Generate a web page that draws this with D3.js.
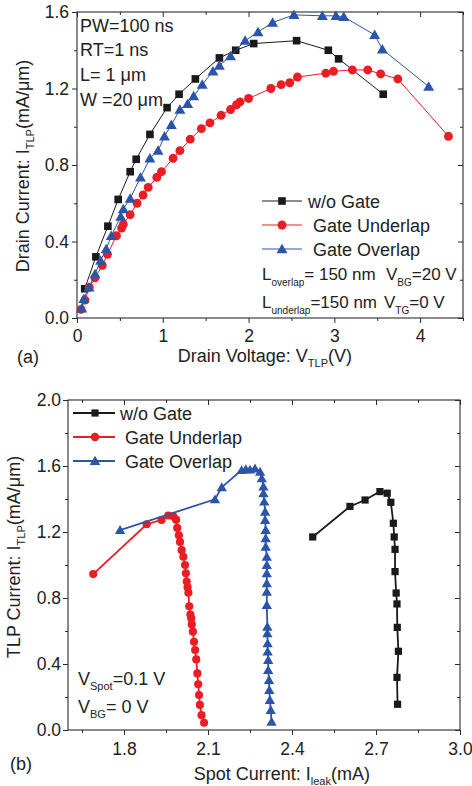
<!DOCTYPE html>
<html><head><meta charset="utf-8">
<script src="https://cdn.jsdelivr.net/npm/d3@7"></script>
<style>body{margin:0;background:#fff} text{white-space:pre}</style>
</head><body>
<svg id="c" width="472" height="786"></svg>
<script>
// ---------- DATA ----------
// Panel (a): Drain current vs drain voltage
const noGateV = [0.09,0.22,0.36,0.48,0.62,0.69,0.85,1.05,1.19,1.38,1.66,1.85,2.06,2.56,2.93,3.05,3.57];
const noGateI = [0.153,0.32,0.48,0.62,0.765,0.83,0.96,1.10,1.17,1.25,1.36,1.40,1.435,1.45,1.40,1.355,1.17];
const underV = [0.047,0.093,0.143,0.21,0.295,0.355,0.46,0.52,0.54,0.62,0.70,0.77,0.83,0.93,0.985,1.12,1.20,1.32,1.45,1.55,1.68,1.79,1.86,1.90,2.00,2.26,2.38,2.48,2.57,2.90,2.99,3.21,3.39,3.54,3.74,4.33];
const underI = [0.045,0.094,0.16,0.21,0.275,0.333,0.43,0.47,0.49,0.54,0.60,0.643,0.683,0.735,0.765,0.835,0.875,0.935,0.99,1.02,1.06,1.09,1.115,1.13,1.148,1.20,1.22,1.23,1.26,1.28,1.29,1.297,1.297,1.276,1.25,0.95];
const overV = [0.055,0.08,0.14,0.21,0.275,0.34,0.40,0.51,0.54,0.62,0.74,0.85,0.945,1.02,1.10,1.20,1.29,1.36,1.46,1.585,1.66,1.79,1.96,2.11,2.28,2.53,2.86,3.02,3.11,3.47,3.56,4.10];
const overI = [0.05,0.10,0.16,0.23,0.30,0.36,0.43,0.53,0.57,0.625,0.735,0.835,0.875,0.95,1.01,1.09,1.12,1.16,1.22,1.29,1.32,1.37,1.45,1.495,1.545,1.585,1.58,1.58,1.575,1.48,1.405,1.21];
// Panel (b): TLP current vs spot leakage current
const leakNoGate = [2.777,2.775,2.78,2.776,2.775,2.772,2.768,2.768,2.765,2.762,2.753,2.74,2.714,2.661,2.607,2.474];
const tlpNoGate  = [0.156,0.319,0.477,0.622,0.764,0.83,0.96,1.095,1.17,1.253,1.38,1.435,1.445,1.394,1.355,1.17];
const leakUnder = [2.086,2.077,2.071,2.068,2.065,2.062,2.058,2.054,2.05,2.046,2.042,2.04,2.037,2.033,2.03,2.027,2.024,2.021,2.018,2.012,2.006,2.0,1.996,1.99,1.986,1.976,1.958,1.934,1.881,1.69];
const tlpUnder  = [0.044,0.09,0.152,0.212,0.277,0.343,0.428,0.485,0.535,0.596,0.64,0.677,0.70,0.75,0.832,0.865,0.90,0.95,1.0,1.05,1.09,1.14,1.18,1.225,1.275,1.295,1.30,1.273,1.247,0.945];
const leakOver = [2.327,2.324,2.321,2.319,2.318,2.315,2.315,2.313,2.313,2.312,2.312,2.31,2.31,2.31,2.31,2.31,2.31,2.306,2.306,2.306,2.304,2.304,2.301,2.298,2.298,2.292,2.286,2.268,2.25,2.235,2.22,2.149,2.125,1.786];
const tlpOver  = [0.05,0.121,0.182,0.242,0.303,0.364,0.424,0.475,0.525,0.586,0.626,0.758,0.838,0.889,0.95,1.0,1.05,1.111,1.162,1.212,1.273,1.323,1.384,1.435,1.475,1.525,1.565,1.585,1.578,1.58,1.575,1.471,1.398,1.212];
// Ticks
const aXTicks = [0,1,2,3,4], aXMinor = [0.5,1.5,2.5,3.5,4.5];
const aYTicks = [0,0.4,0.8,1.2,1.6], aYMinor = [0.2,0.6,1.0,1.4];
const bXTicks = [1.8,2.1,2.4,2.7,3.0], bXMinor = [1.65,1.95,2.25,2.55,2.85];
const bYTicks = [0,0.4,0.8,1.2,1.6,2.0], bYMinor = [0.2,0.6,1.0,1.4,1.8];
const seriesNames = ["w/o Gate", " Gate Underlap", " Gate Overlap"];

// ---------- STYLE ----------
const FONT = "'Liberation Sans', Arial, Helvetica, sans-serif";
const BLACK = "#1a1a1a", RED = "#ec1c24", BLUE = "#2c55a9", AX = "#2a2a2a", TXT = "#222";
const svg = d3.select("#c").attr("font-family", FONT);

function rich(g, x, y, parts, size, anchor, subSize, subDy) {
  subSize = subSize || 11; subDy = subDy || 5;
  const t = g.append("text").attr("x", x).attr("y", y).attr("font-size", size)
    .attr("fill", TXT).attr("text-anchor", anchor || "start");
  let down = false;
  parts.forEach(p => {
    const sub = Array.isArray(p);
    const s = t.append("tspan").text(sub ? p[0] : p);
    if (sub) { s.attr("font-size", subSize); if (!down) { s.attr("dy", subDy); down = true; } }
    else if (down) { s.attr("dy", -subDy); down = false; }
  });
  return t;
}

function panel(cfg) {
  const g = svg.append("g");
  const x = d3.scaleLinear().domain(cfg.xDom).range([cfg.x0, cfg.x1]);
  const y = d3.scaleLinear().domain(cfg.yDom).range([cfg.y1, cfg.y0]);
  const tf = 17.5;
  const ax = (gen, tr, vals, size, pad, fmt) => {
    const a = g.append("g").attr("transform", tr)
      .call(gen.tickValues(vals).tickSize(size).tickPadding(pad).tickFormat(fmt || ""));
    a.select(".domain").remove();
    a.selectAll("line").attr("stroke", AX);
    a.selectAll("text").attr("font-size", tf).attr("fill", TXT).attr("font-family", FONT);
    return a;
  };
  const fx = cfg.xFmt, fy = d3.format(".1f");
  ax(d3.axisBottom(x), `translate(0,${cfg.y1})`, cfg.xT, 5, cfg.xPad, fx);
  ax(d3.axisBottom(x), `translate(0,${cfg.y1})`, cfg.xM, 3, 0);
  ax(d3.axisTop(x), `translate(0,${cfg.y0})`, cfg.xT, -5, 0);
  ax(d3.axisTop(x), `translate(0,${cfg.y0})`, cfg.xM, -3, 0);
  ax(d3.axisLeft(y), `translate(${cfg.x0},0)`, cfg.yT, 5, cfg.yPad, fy);
  ax(d3.axisLeft(y), `translate(${cfg.x0},0)`, cfg.yM, 3, 0);
  ax(d3.axisRight(y), `translate(${cfg.x1},0)`, cfg.yT, -5, 0);
  ax(d3.axisRight(y), `translate(${cfg.x1},0)`, cfg.yM, -3, 0);
  g.append("rect").attr("x", cfg.x0).attr("y", cfg.y0)
    .attr("width", cfg.x1 - cfg.x0).attr("height", cfg.y1 - cfg.y0)
    .attr("fill", "none").attr("stroke", AX).attr("stroke-width", 1.1);
  return {g, x, y};
}

function series(p, xs, ys, color, type, size, lw) {
  const pts = xs.map((v, i) => [v, ys[i]]);
  p.g.append("path").attr("d", d3.line().x(d => p.x(d[0])).y(d => p.y(d[1]))(pts))
    .attr("fill", "none").attr("stroke", color).attr("stroke-width", lw);
  const sym = d3.symbol().type(type).size(size);
  p.g.selectAll(null).data(pts).enter().append("path")
    .attr("d", sym).attr("fill", color)
    .attr("transform", d => `translate(${p.x(d[0])},${p.y(d[1]) + (type === d3.symbolTriangle ? 1 : 0)})`);
}

function legend(g, rows, x0, x1, xm, textX, color, types, sizes, lw) {
  rows.forEach((r, i) => {
    g.append("line").attr("x1", x0).attr("x2", x1).attr("y1", r).attr("y2", r)
      .attr("stroke", color[i]).attr("stroke-width", lw);
    g.append("path").attr("d", d3.symbol().type(types[i]).size(sizes[i]))
      .attr("fill", color[i]).attr("transform", `translate(${xm},${r + (i === 2 ? 1 : 0)})`);
    g.append("text").attr("x", textX).attr("y", r + 6.5).attr("font-size", 18)
      .attr("fill", TXT).text(seriesNames[i]);
  });
}

const colors = [BLACK, RED, BLUE];
const types = [d3.symbolSquare, d3.symbolCircle, d3.symbolTriangle];

// ---------- PANEL (a) ----------
const pa = panel({x0: 77, x1: 463, y0: 12, y1: 318, xDom: [0, 4.5], yDom: [0, 1.6],
  xT: aXTicks, xM: aXMinor, yT: aYTicks, yM: aYMinor, xPad: 7, yPad: 3, xFmt: d3.format("d")});
series(pa, noGateV, noGateI, BLACK, d3.symbolSquare, 58, 1);
series(pa, underV, underI, RED, d3.symbolCircle, 62, 1);
series(pa, overV, overI, BLUE, d3.symbolTriangle, 52, 1);
legend(pa.g, [201, 225, 249], 262, 302, 282, 308, colors, types, [58, 62, 52], 1);
["PW=100 ns", "RT=1 ns", "L= 1 \u03bcm", "W =20 \u03bcm"].forEach((s, i) =>
  pa.g.append("text").attr("x", 80).attr("y", [32, 56, 81, 106][i]).attr("font-size", 18).attr("fill", TXT).text(s));
rich(pa.g, 262, 280, ["L", ["overlap"], "= 150 nm"], 17, "start", 10, 6);
rich(pa.g, 386, 280, ["V", ["BG"], "=20 V"], 17, "start", 10, 6);
rich(pa.g, 262, 308, ["L", ["underlap"], "=150 nm"], 17, "start", 10, 6);
rich(pa.g, 384, 308, ["V", ["TG"], "=0 V"], 17, "start", 10, 6);
rich(svg, 352, 362, ["Drain Voltage: V", ["TLP"], "(V)"], 18, "end");
svg.append("text").attr("x", 17).attr("y", 363).attr("font-size", 18).attr("fill", TXT).text("(a)");
rich(svg.append("g").attr("transform", "translate(29,166) rotate(-90)"), 0, 0,
  ["Drain Current: I", ["TLP"], "(mA/\u03bcm)"], 18, "middle");

// ---------- PANEL (b) ----------
const pb = panel({x0: 68, x1: 460, y0: 400, y1: 730, xDom: [1.6, 3.0], yDom: [0, 2.0],
  xT: bXTicks, xM: bXMinor, yT: bYTicks, yM: bYMinor, xPad: 8, yPad: 2, xFmt: d3.format(".1f")});
series(pb, leakNoGate, tlpNoGate, BLACK, d3.symbolSquare, 52, 1.8);
series(pb, leakUnder, tlpUnder, RED, d3.symbolCircle, 52, 1.8);
series(pb, leakOver, tlpOver, BLUE, d3.symbolTriangle, 46, 1.8);
legend(pb.g, [413, 437, 461], 73, 115, 95, 120, colors, types, [52, 56, 50], 1.8);
rich(pb.g, 78, 685, ["V", ["Spot"], "=0.1 V"], 18);
rich(pb.g, 78, 713, ["V", ["BG"], "= 0 V"], 18);
rich(svg, 370, 780, ["Spot Current: I", ["leak"], "(mA)"], 18, "end");
svg.append("text").attr("x", 10).attr("y", 770).attr("font-size", 18).attr("fill", TXT).text("(b)");
rich(svg.append("g").attr("transform", "translate(20,557) rotate(-90)"), 0, 0,
  ["TLP Current: I", ["TLP"], "(mA/\u03bcm)"], 18, "middle");
</script>
</body></html>
